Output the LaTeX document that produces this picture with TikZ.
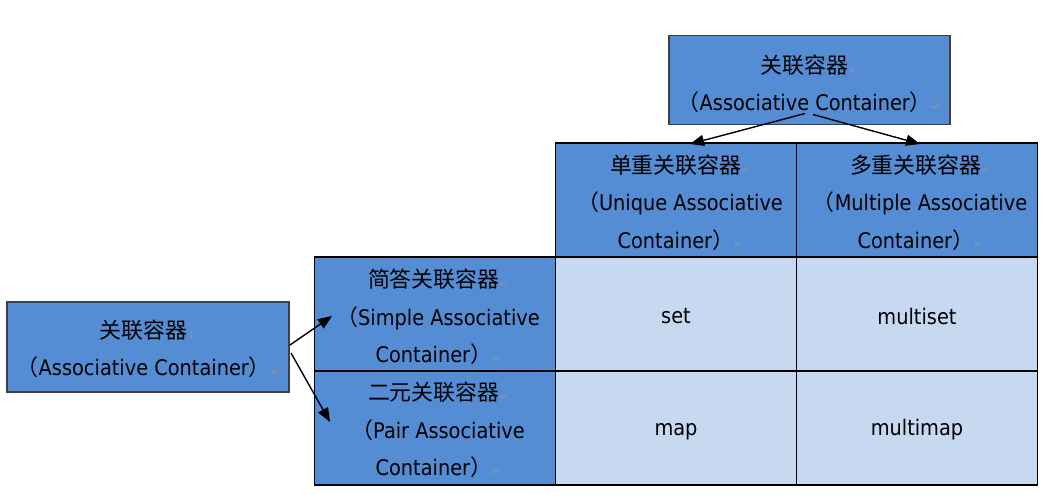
\documentclass[tikz,border=0pt]{standalone}
\usepackage{fontspec}
\setmainfont{DejaVu Sans}[FakeStretch=0.9]
\newfontfamily\cjk{Noto Sans CJK SC}[Scale=1.02]
\newfontfamily\markfont{DejaVu Sans}
\usetikzlibrary{arrows.meta,calc}
\definecolor{hblue}{RGB}{84,141,212}
\definecolor{lblue}{RGB}{198,217,241}
\definecolor{bordergrey}{RGB}{64,64,64}
\definecolor{markgrey}{RGB}{150,150,150}
\newcommand{\brkmark}{{\markfont\fontsize{10}{10}\selectfont\color{markgrey}↓}}
\newcommand{\retmark}{{\markfont\fontsize{10}{10}\selectfont\color{markgrey}↵}}
\tikzset{
  base/.style={inner sep=0pt, outer sep=0pt, align=center, font=\fontsize{21.5}{37.5}\selectfont},
  hcell/.style={base, draw=black, line width=1.2pt, fill=hblue, minimum width=241pt, minimum height=114pt},
  dcell/.style={hcell, fill=lblue},
  outerbox/.style={base, draw=bordergrey, line width=1.5pt, fill=hblue, minimum width=281pt, minimum height=89pt},
  arr/.style={line width=1.4pt, -{Triangle[length=14pt,width=11pt]}},
}
\begin{document}
\begin{tikzpicture}[x=1pt,y=-1pt]
\useasboundingbox (0,0) rectangle (1061,495);
% outer boxes
\node[outerbox] (top) at (809.5,80) {};
\node[base] (toptext) at (809,84) {{\cjk 关联容器}\brkmark\\{\cjk （}Associative Container{\cjk ）}\retmark};
\node[outerbox, minimum width=282pt, minimum height=90pt] (left) at (148,347) {};
\node[base] (lefttext) at (148,349) {{\cjk 关联容器}\brkmark\\{\cjk （}Associative Container{\cjk ）}\retmark};
% table
\node[hcell] (uniq) at (676,200) {};
\node[hcell] (multi) at (917,200) {};
\node[hcell] (simple) at (435,314) {};
\node[hcell] (pair) at (435,428) {};
\node[dcell] (set) at (676,314) {};
\node[dcell] (multiset) at (917,314) {};
\node[dcell] (map) at (676,428) {};
\node[dcell] (multimap) at (917,428) {};
\node[base] (settext) at (676,316) {set};
\node[base] (multisettext) at (917,316) {multiset};
\node[base] (maptext) at (676,432) {map};
\node[base] (multimaptext) at (917,430) {multimap};
\node[base] (uniqtext) at (680,202.5) {{\cjk 单重关联容器}\retmark\\{\cjk （}Unique Associative\\Container{\cjk ）}\retmark};
\node[base] (multitext) at (920,202.5) {{\cjk 多重关联容器}\retmark\\{\cjk （}Multiple Associative\\Container{\cjk ）}\retmark};
\node[base] (simpletext) at (438,317) {{\cjk 简答关联容器}\retmark\\{\cjk （}Simple Associative\\Container{\cjk ）}\retmark};
\node[base] (pairtext) at (438,430) {{\cjk 二元关联容器}\retmark\\{\cjk （}Pair Associative\\Container{\cjk ）}\retmark};
% arrows
\coordinate (t1) at ($(top.south)+(-4.5,-11)$);
\coordinate (t2) at ($(top.south)+(3.5,-10)$);
\coordinate (e1) at ($(uniq.north)+(14,1)$);
\coordinate (e2) at ($(multi.north)+(3,1)$);
\draw[arr] (t1) -- (e1);
\draw[arr] (t2) -- (e2);
\coordinate (l1) at ($(left.east)+(1,-2)$);
\coordinate (l2) at ($(left.east)+(2,6)$);
\coordinate (f1) at ($(simple.west)+(17.5,2)$);
\coordinate (f2) at ($(pair.west)+(15.5,-6)$);
\draw[arr] (l1) -- (f1);
\draw[arr] (l2) -- (f2);
\end{tikzpicture}
\end{document}
